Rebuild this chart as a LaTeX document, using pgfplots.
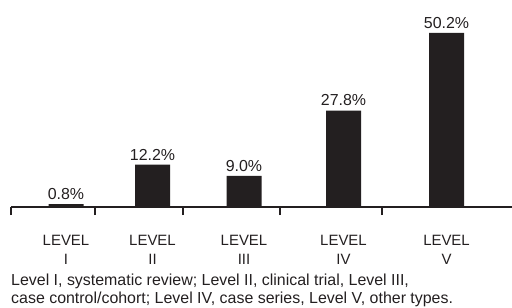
\documentclass[border=0pt]{standalone}
\usepackage{pgfplots}
\pgfplotsset{compat=1.18}
\usepackage{fontspec}
\setmainfont{Liberation Sans}
\definecolor{barblack}{RGB}{35,31,32}
\begin{document}
\begin{tikzpicture}[x=1bp,y=1bp]
\useasboundingbox (0,0) rectangle (512,307);
\begin{axis}[
  scale only axis, width=501bp, height=207bp,
  at={(11bp,100bp)}, anchor=south west,
  xmin=11, xmax=512, ymin=0, ymax=59.72,
  axis x line*=bottom, axis y line=none,
  x axis line style={line width=1.5bp, color=barblack},
  xtick={66,152.5,244,343.5,446.5},
  xticklabels={{LEVEL\\I},{LEVEL\\II},{LEVEL\\III},{LEVEL\\IV},{LEVEL\\V}},
  xticklabel style={align=center, font=\fontsize{15}{18.7}\selectfont, text=barblack, yshift=-25bp},
  major tick length=0pt,
  minor xtick={11,95,183,280,382},
  minor tick length=8bp, tick align=outside,
  minor tick style={line width=1.5bp, color=barblack},
  /pgf/number format/assume math mode=true,
  ybar, bar width=35bp,
  nodes near coords={\pgfmathprintnumber[fixed,fixed zerofill,precision=1]{\pgfplotspointmeta}\%},
  every node near coord/.append style={font=\fontsize{16}{19}\selectfont, text=barblack, yshift=1bp},
  clip=false,
]
\addplot[fill=barblack, draw=none] coordinates {(66,0.8) (152.5,12.2) (244,9.0) (343.5,27.8) (446.5,50.2)};
\end{axis}
\node[anchor=base west, font=\fontsize{16}{19}\selectfont, text=barblack, inner sep=0pt] at (11,21.6) {Level I, systematic review; Level II, clinical trial, Level III,};
\node[anchor=base west, font=\fontsize{16}{19}\selectfont, text=barblack, inner sep=0pt] at (11,3.5) {case control/cohort; Level IV, case series, Level V, other types.};
\end{tikzpicture}
\end{document}
